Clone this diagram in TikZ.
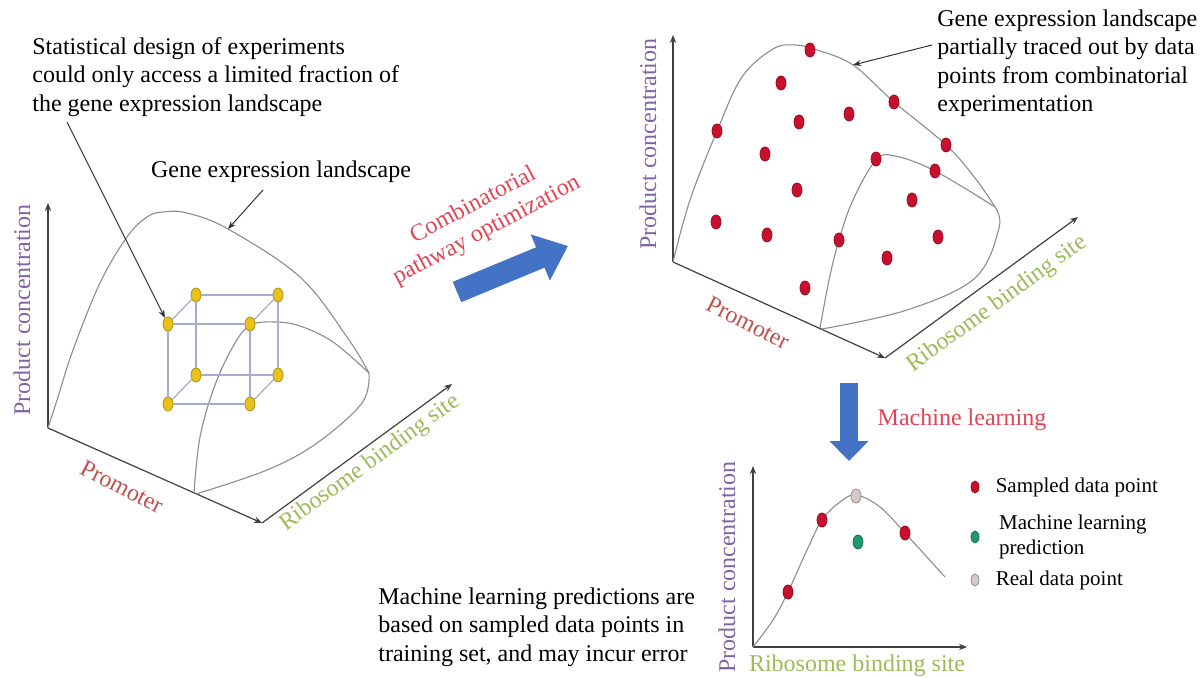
\documentclass[tikz,border=0pt]{standalone}
\usepackage{fontspec}
\setmainfont{Liberation Serif}
\usetikzlibrary{arrows.meta,positioning,shapes.geometric}

\definecolor{purplelab}{HTML}{8064A2}
\definecolor{redlab}{HTML}{C0504D}
\definecolor{greenlab}{HTML}{9BBB59}
\definecolor{optred}{HTML}{E04555}
\definecolor{arrowblue}{HTML}{4472C4}
\definecolor{dotred}{HTML}{C8102E}
\definecolor{dotgold}{HTML}{E8C21A}
\definecolor{dotgreen}{HTML}{1F9A6C}
\definecolor{dotgrey}{HTML}{D2C9C9}
\definecolor{cubeline}{HTML}{A3ADCB}

\begin{document}
\begin{tikzpicture}[
  x=0.5pt, y=-0.5pt,
  font=\rmfamily\fontsize{12}{14.25}\selectfont,
  axis/.style={-{Stealth[length=4pt,width=3.2pt]}, line width=0.6pt, draw=black!75},
  surface/.style={draw=black!45, line width=0.55pt},
  cubeedge/.style={draw=cubeline, line width=0.6pt},
  lead/.style={-{Stealth[length=4pt,width=3pt]}, line width=0.5pt, draw=black!80},
  bigarrow/.style={-{Triangle[length=15pt,width=24pt]}, line width=11pt, draw=arrowblue},
  note/.style={align=left, inner sep=0pt},
  dot/.style={ellipse, inner sep=0pt, minimum width=5pt, minimum height=7pt, line width=0.4pt},
  reddot/.style={dot, fill=dotred, draw=dotred!75!black},
  golddot/.style={dot, fill=dotgold, draw=dotgold!75!black},
  greendot/.style={dot, fill=dotgreen, draw=dotgreen!75!black},
  greydot/.style={dot, fill=dotgrey, draw=dotgrey!70!black},
  legdot/.style={minimum width=4pt, minimum height=6pt},
  legend/.style={note, font=\rmfamily\fontsize{10.5}{12.5}\selectfont},
  ylab/.style={rotate=90, text=purplelab, inner sep=0pt},
  promlab/.style={rotate=-27, text=redlab, inner sep=0pt},
  rbslab/.style={text=greenlab, inner sep=0pt}
]
\useasboundingbox (0,0) rectangle (1202,678);

% left: landscape with statistical design
\coordinate (o1) at (48,428);
\coordinate (y1) at (48,203);
\coordinate (p1) at (262,523);
\coordinate (r1) at (452,384);
\draw[axis] (o1) -- (y1);
\draw[axis] (o1) -- (p1);
\draw[axis] (p1) -- (r1);

\draw[surface] plot[smooth, tension=0.6] coordinates {(48,428) (58,397) (73,350) (100,283) (127,237) (147,217) (163,212) (187,213) (228,229) (300,277) (347,337) (369,373)};
\draw[surface] plot[smooth, tension=0.6] coordinates {(369,373) (362,403) (317,443) (267,470) (196,494)};
\draw[surface] plot[smooth, tension=0.6] coordinates {(194,493) (200,437) (215,385) (235,343) (251,325) (275,322) (300,326) (333,342) (369,373)};

\node[golddot] (c1) at (168,324) {};
\node[golddot] (c2) at (250,324) {};
\node[golddot] (c3) at (168,404) {};
\node[golddot] (c4) at (250,404) {};
\node[golddot] (c5) at (196,295) {};
\node[golddot] (c6) at (278,295) {};
\node[golddot] (c7) at (196,375) {};
\node[golddot] (c8) at (278,375) {};
\draw[cubeedge] (c1) -- (c2) -- (c4) -- (c3) -- (c1);
\draw[cubeedge] (c5) -- (c6) -- (c8) -- (c7) -- (c5);
\draw[cubeedge] (c1) -- (c5);
\draw[cubeedge] (c2) -- (c6);
\draw[cubeedge] (c3) -- (c7);
\draw[cubeedge] (c4) -- (c8);

\node[ylab] (pc1) at (22,310) {Product concentration};
\node[promlab] (pr1) at (122,487) {Promoter};
\node[rbslab, rotate=36] (rb1) at (370,463) {Ribosome binding site};

\node[note, anchor=west] (stat) at (32,77) {Statistical design of experiments\\could only access a limited fraction of\\the gene expression landscape};
\node[note] (gel) at (281,172) {Gene expression landscape};
\coordinate (s1) at (67,122);
\coordinate (s2) at (263,190);
\coordinate (e2) at (228,229);
\draw[lead] (s1) -- (c1);
\draw[lead] (s2) -- (e2);

% middle: combinatorial step
\node[note, align=center, rotate=28, text=optred] (opt) at (480,218) {Combinatorial\\pathway optimization};
\coordinate (a1) at (457,292);
\coordinate (a2) at (568,246);
\draw[bigarrow] (a1) -- (a2);

% top right: landscape traced by data points
\coordinate (o2) at (673,262);
\coordinate (y2) at (673,35);
\coordinate (p2) at (885,358);
\coordinate (r2) at (1078,217);
\draw[axis] (o2) -- (y2);
\draw[axis] (o2) -- (p2);
\draw[axis] (p2) -- (r2);

\draw[surface] plot[smooth, tension=0.6] coordinates {(673,262) (690,200) (717,131) (742,77) (773,49) (795,45) (817,50) (853,65) (894,102) (946,145) (975,178) (995,207)};
\draw[surface] plot[smooth, tension=0.6] coordinates {(995,207) (999,228) (975,278) (907,310) (822,329)};
\draw[surface] plot[smooth, tension=0.6] coordinates {(820,328) (829,280) (839,240) (853,200) (876,160) (895,156) (935,171) (995,207)};

\node[reddot] (d1) at (810,50) {};
\node[reddot] (d2) at (781,83) {};
\node[reddot] (d3) at (894,102) {};
\node[reddot] (d4) at (717,131) {};
\node[reddot] (d5) at (799,122) {};
\node[reddot] (d6) at (849,114) {};
\node[reddot] (d7) at (946,145) {};
\node[reddot] (d8) at (765,154) {};
\node[reddot] (d9) at (876,159) {};
\node[reddot] (d10) at (935,171) {};
\node[reddot] (d11) at (797,190) {};
\node[reddot] (d12) at (912,200) {};
\node[reddot] (d13) at (716,222) {};
\node[reddot] (d14) at (767,235) {};
\node[reddot] (d15) at (839,240) {};
\node[reddot] (d16) at (938,237) {};
\node[reddot] (d17) at (887,258) {};
\node[reddot] (d18) at (805,288) {};

\node[ylab] (pc2) at (648,144) {Product concentration};
\node[promlab] (pr2) at (748,323) {Promoter};
\node[rbslab, rotate=36] (rb2) at (997,304) {Ribosome binding site};

\node[note, anchor=west] (ger) at (937,63) {Gene expression landscape\\partially traced out by data\\points from combinatorial\\experimentation};
\coordinate (s3) at (932,45);
\coordinate (e3) at (853,65);
\draw[lead] (s3) -- (e3);

% bottom right: machine learning
\coordinate (a3) at (849,383);
\coordinate (a4) at (849,461);
\draw[bigarrow, line width=9pt, -{Triangle[length=10pt,width=19pt]}] (a3) -- (a4);
\node[note, text=optred] (ml) at (962,420) {Machine learning};

\coordinate (o3) at (753,647);
\coordinate (y3) at (753,466);
\coordinate (x3) at (967,647);
\draw[axis] (o3) -- (y3);
\draw[axis] (o3) -- (x3);
\draw[surface] plot[smooth, tension=0.6] coordinates {(753,647) (773,620) (788,592) (807,550) (822,520) (840,502) (856,495) (880,507) (905,533) (925,555) (945,577)};

\node[reddot] (m1) at (788,592) {};
\node[reddot] (m2) at (822,520) {};
\node[greydot] (m3) at (856,496) {};
\node[greendot] (m4) at (858,542) {};
\node[reddot] (m5) at (905,533) {};

\node[ylab] (pc3) at (727,567) {Product concentration};
\node[rbslab] (rb3) at (857,666) {Ribosome binding site};

\node[reddot, legdot] (k1) at (975,487) {};
\node[legend, right=2.8mm of k1] (k1t) {Sampled data point};
\node[greendot, legdot] (k2) at (975,537) {};
\node[legend, right=3.4mm of k2] (k2t) {Machine learning\\prediction};
\node[greydot, legdot] (k3) at (975,580) {};
\node[legend, right=2.8mm of k3] (k3t) {Real data point};

\node[note, anchor=west] (mlnote) at (378,627) {Machine learning predictions are\\based on sampled data points in\\training set, and may incur error};

\end{tikzpicture}
\end{document}
